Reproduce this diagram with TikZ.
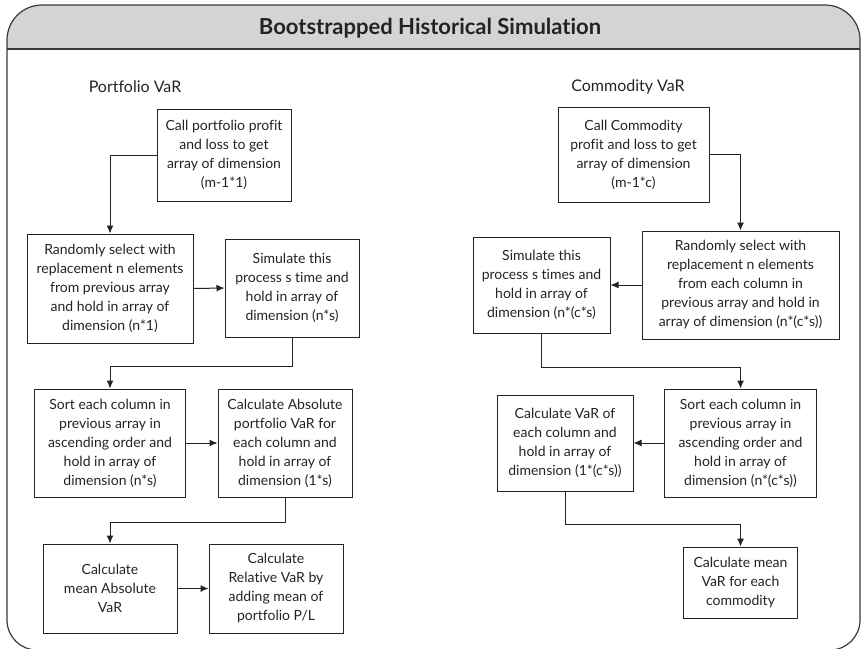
\documentclass[tikz,border=0pt]{standalone}
\usepackage{fontspec}
\setmainfont{Lato}[Ligatures={NoCommon}]
\usetikzlibrary{arrows.meta}
\usetikzlibrary{positioning}
\definecolor{headgray}{RGB}{212,212,212}
\definecolor{inkgray}{RGB}{35,35,35}
\tikzstyle{procbox} = [rectangle, draw=inkgray, line width=1pt, align=center, inner sep=2pt, text=inkgray, font=\fontsize{14}{19}\selectfont]
\tikzstyle{flow} = [draw=inkgray, line width=1pt, -{Latex[length=8pt, width=7pt]}]
\tikzstyle{colhead} = [text=inkgray, font=\fontsize{16}{19}\selectfont]
\tikzstyle{frameline} = [draw=inkgray!90, line width=1.2pt]

\begin{document}
\begin{tikzpicture}[x=1pt, y=-1pt]
		\useasboundingbox (0,0) rectangle (861,648);
		% title band
		\begin{scope}
			\clip (0,0) rectangle (861,49);
			\fill[headgray, rounded corners=35pt] (7,5) rectangle (860,200);
		\end{scope}
		\draw[frameline, rounded corners=35pt] (7,300) -- (7,5) -- (860,5) -- (860,300);
		\draw[frameline, rounded corners=30pt] (860,300) -- (860,650) -- (7,650) -- (7,300);
		\draw[frameline] (7,49) -- (860,49);
		\node[text=inkgray, font=\bfseries\fontsize{22}{26}\selectfont] (title) at (430,28) {Bootstrapped Historical Simulation};
		% column captions
		\node[colhead] (phead) at (135,87) {Portfolio VaR};
		\node[colhead] (chead) at (628,87) {Commodity VaR};
		% portfolio steps
		\node[procbox, minimum width=134, minimum height=92] (P1) at (224,155) {Call portfolio profit\\and loss to get\\array of dimension\\(m-1*1)};
		\node[procbox, minimum width=166, minimum height=109] (P2) at (110,288.5) {Randomly select with\\replacement n elements\\from previous array\\and hold in array of\\dimension (n*1)};
		\node[procbox, minimum width=134, minimum height=98] (P3) at (292,288) {Simulate this\\process s time and\\hold in array of\\dimension (n*s)};
		\node[procbox, minimum width=151, minimum height=108] (P4) at (110,443) {Sort each column in\\previous array in\\ascending order and\\hold in array of\\dimension (n*s)};
		\node[procbox, minimum width=134, minimum height=108] (P5) at (285,443) {Calculate Absolute\\portfolio VaR for\\each column and\\hold in array of\\dimension (1*s)};
		\node[procbox, minimum width=134, minimum height=89] (P6) at (110,588.5) {Calculate\\mean Absolute\\VaR};
		\node[procbox, minimum width=134, minimum height=89] (P7) at (276,588.5) {Calculate\\Relative VaR by\\adding mean of\\portfolio P/L};
		% commodity steps
		\node[procbox, minimum width=151, minimum height=95] (C1) at (633.5,154.5) {Call Commodity\\profit and loss to get\\array of dimension\\(m-1*c)};
		\node[procbox, minimum width=197, minimum height=108] (C2) at (740.5,285) {Randomly select with\\replacement n elements\\from each column in\\previous array and hold in\\array of dimension (n*(c*s))};
		\node[procbox, minimum width=137, minimum height=96] (C3) at (541.5,285) {Simulate this\\process s times and\\hold in array of\\dimension (n*(c*s)};
		\node[procbox, minimum width=152, minimum height=108] (C4) at (740.5,443) {Sort each column in\\previous array in\\ascending order and\\hold in array of\\dimension (n*(c*s))};
		\node[procbox, minimum width=136, minimum height=96] (C5) at (565,443) {Calculate VaR of\\each column and\\hold in array of\\dimension (1*(c*s))};
		\node[procbox, minimum width=114, minimum height=71] (C6) at (740.5,582.5) {Calculate mean\\VaR for each\\commodity};
		% portfolio flow
		\draw[flow] (P1.west) -| (P2.north);
		\draw[flow] (P2.east) -- (P3.west);
		\draw[flow] (P3.south) -- ++(0,29) -| (P4.north);
		\draw[flow] (P4.east) -- (P5.west);
		\draw[flow] (P5.south) -- ++(0,25) -| (P6.north);
		\draw[flow] (P6.east) -- (P7.west);
		% commodity flow
		\draw[flow] (C1.east) -| (C2.north);
		\draw[flow] (C2.west) -- (C3.east);
		\draw[flow] (C3.south) -- ++(0,34) -| (C4.north);
		\draw[flow] (C4.west) -- (C5.east);
		\draw[flow] (C5.south) -- ++(0,33) -| (C6.north);
	\end{tikzpicture}
\end{document}
